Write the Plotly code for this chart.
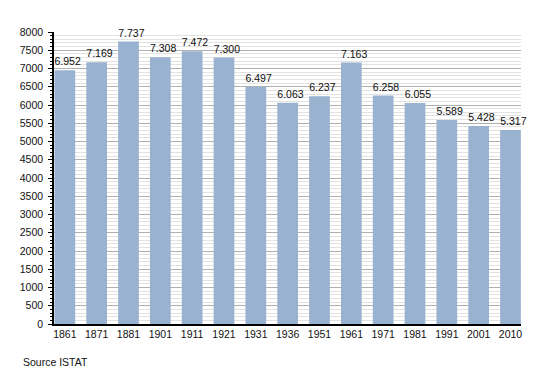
import plotly.graph_objects as go

years = ["1861", "1871", "1881", "1901", "1911", "1921", "1931", "1936", "1951",
         "1961", "1971", "1981", "1991", "2001", "2010"]
population = [6952, 7169, 7737, 7308, 7472, 7300, 6497, 6063, 6237,
              7163, 6258, 6055, 5589, 5428, 5317]
y_ticks = list(range(0, 8001, 500))

FS = 10.5

fig = go.Figure(go.Bar(
    x=years, y=population,
    marker=dict(color="#98b2cf", line=dict(width=0)),
    width=0.65,
    texttemplate="\u00a0\u00a0%{y:,}", textposition="outside",
    constraintext="none",
    textfont=dict(family="Liberation Sans", size=FS, color="#111"),
    cliponaxis=False,
))

fig.update_layout(
    width=542, height=365,
    margin=dict(l=42, r=29, t=24, b=49),
    paper_bgcolor="white", plot_bgcolor="white",
    separators=",.",
    font=dict(family="Liberation Sans", size=FS, color="#111"),
    showlegend=False,
    xaxis=dict(
        type="category", range=[-0.34, 14.33],
        showline=True, linecolor="black", linewidth=1.5,
        ticks="", showgrid=False, tickfont=dict(size=FS),
    ),
    yaxis=dict(
        range=[0, 8000], tickvals=y_ticks,
        showline=True, linecolor="black", linewidth=1.5,
        ticks="outside", ticklen=4, tickcolor="black",
        ticklabelstandoff=3,
        showgrid=True, gridcolor="#b0b0b0", gridwidth=1,
        zeroline=False, tickfont=dict(size=FS),
        minor=dict(dtick=100, showgrid=True, gridcolor="#e2e2e2",
                   ticks="outside", ticklen=2, tickcolor="black"),
    ),
    annotations=[dict(
        text="Source ISTAT", xref="paper", yref="paper",
        x=-0.07, y=-0.13, xanchor="left", yanchor="middle",
        showarrow=False, font=dict(size=FS, color="#111"),
    )],
)

fig.write_html("out.html")
